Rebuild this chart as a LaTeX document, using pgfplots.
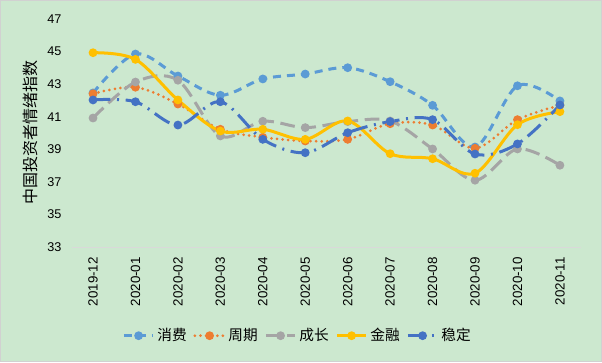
\documentclass[border=0pt]{standalone}
\usepackage{fontspec}
\setmainfont{Liberation Sans}
\newfontfamily\cjk{Noto Sans CJK SC}
\usepackage{pgfplots}
\pgfplotsset{compat=1.18}
\definecolor{bg}{HTML}{CCE8CF}
\definecolor{cA}{HTML}{5B9BD5}
\definecolor{cB}{HTML}{ED7D31}
\definecolor{cC}{HTML}{A5A5A5}
\definecolor{cD}{HTML}{FFC000}
\definecolor{cE}{HTML}{4472C4}
\begin{document}
\begin{tikzpicture}
\fill[bg] (0,0) rectangle (451.5pt,271.5pt);
\draw[black!18, line width=0.75pt] (0.375pt,0.375pt) rectangle (451.125pt,271.125pt);
\begin{axis}[
  at={(53.85pt,86.25pt)}, anchor=south west,
  scale only axis, width=382pt, height=171pt,
  xmin=-0.5, xmax=11.5, ymin=33, ymax=47,
  ytick={33,35,...,47},
  xtick={0,...,11},
  xticklabels={2019-12,2020-01,2020-02,2020-03,2020-04,2020-05,2020-06,2020-07,2020-08,2020-09,2020-10,2020-11},
  axis x line*=bottom, axis y line*=left,
  y axis line style={draw=none},
  x axis line style={draw=black!15, line width=0.75pt},
  tick style={draw=none},
  /pgf/number format/assume math mode=true,
  yticklabel style={font=\fontsize{9.5}{11}\selectfont, anchor=east, inner sep=0pt},
  yticklabel shift={7.5pt},
  xticklabel style={font=\fontsize{10}{12}\selectfont, rotate=90, anchor=east, inner sep=0pt},
  xticklabel shift={7.5pt},
  ylabel={\cjk 中国投资者情绪指数},
  ylabel style={font=\fontsize{12}{14}\selectfont, at={(axis description cs:-0.082,0.502)}, anchor=center},
  legend columns=5,
  legend style={draw=none, fill=none, at={(0.444,-0.389)}, anchor=center,
    font=\cjk\fontsize{11}{13}\selectfont,
    /tikz/every even column/.append style={column sep=3pt}},
  legend image code/.code={\draw[mark repeat=2,mark phase=2,#1] plot coordinates {(0pt,0pt) (11pt,0pt) (22pt,0pt)};},
  every axis plot/.append style={line width=2.25pt, smooth, tension=0.55, mark=*, mark size=2.1pt, mark options={solid}},
]
\addplot[cA, dash pattern=on 6pt off 4.5pt, mark options={fill=cA, draw=cA, solid}] coordinates {
(0,42.46)(1,44.85)(2,43.5)(3,42.32)(4,43.32)(5,43.62)(6,44.01)(7,43.15)(8,41.7)(9,39.14)(10,42.9)(11,41.97)};
\addlegendentry{消费}
\addplot[cB, line cap=round, dash pattern=on 0pt off 4.2pt, mark options={fill=cB, draw=cB, solid}] coordinates {
(0,42.41)(1,42.81)(2,41.78)(3,40.23)(4,39.74)(5,39.51)(6,39.61)(7,40.57)(8,40.49)(9,39.06)(10,40.82)(11,41.7)};
\addlegendentry{周期}
\addplot[cC, dash pattern=on 11pt off 5pt, mark options={fill=cC, draw=cC, solid}] coordinates {
(0,40.92)(1,43.13)(2,43.24)(3,39.82)(4,40.72)(5,40.33)(6,40.7)(7,40.74)(8,39.02)(9,37.1)(10,39.02)(11,38.02)};
\addlegendentry{成长}
\addplot[cD, mark options={fill=cD, draw=cD, solid}] coordinates {
(0,44.93)(1,44.52)(2,42.03)(3,40.12)(4,40.23)(5,39.61)(6,40.74)(7,38.73)(8,38.42)(9,37.53)(10,40.51)(11,41.31)};
\addlegendentry{金融}
\addplot[cE, dash pattern=on 13pt off 5pt on 1.5pt off 5pt, mark options={fill=cE, draw=cE, solid}] coordinates {
(0,42.03)(1,41.92)(2,40.49)(3,41.92)(4,39.61)(5,38.79)(6,40.02)(7,40.7)(8,40.82)(9,38.71)(10,39.33)(11,41.72)};
\addlegendentry{稳定}
\end{axis}
\end{tikzpicture}
\end{document}
